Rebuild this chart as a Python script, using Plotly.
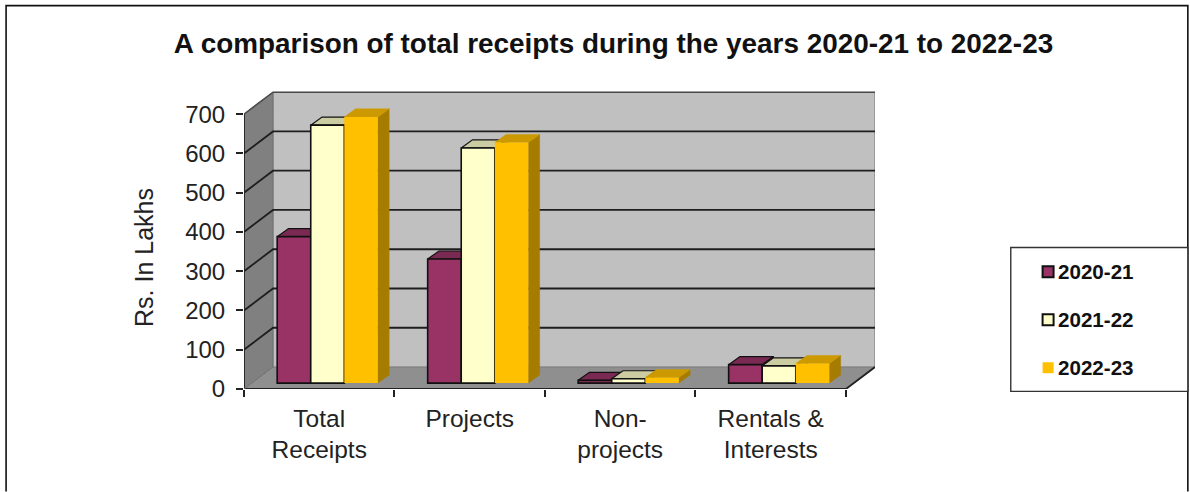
import plotly.graph_objects as go

categories = ["Total<br>Receipts", "Projects", "Non-<br>projects", "Rentals &<br>Interests"]
series_names = ["2020-21", "2021-22", "2022-23"]
values_2020_21 = [373, 316, 7, 47]
values_2021_22 = [657, 599, 11, 44]
values_2022_23 = [678, 613, 14, 50]
y_ticks = [0, 100, 200, 300, 400, 500, 600, 700]

series_values = [values_2020_21, values_2021_22, values_2022_23]
front_colors = ["#993366", "#FFFFCC", "#FFC000"]
top_colors = ["#7A2952", "#CCCCA3", "#CC9A00"]
side_colors = ["#5C1F3D", "#99997A", "#A67C00"]
edge_colors = ["#111111", "#111111", None]

FONT = "Liberation Sans"

# Oblique projection used for the pseudo-3D box, in axis units
WALL_DX, WALL_DY = 0.193, 56      # depth of the whole box
PLANE_DX, PLANE_DY = 0.055, 15    # plane holding the bars' front faces
BAR_DX, BAR_DY = 0.075, 20.5      # depth of a single bar
BAR_W = 0.223

X0, X1 = -0.5, 3.5
Y_MAX = 700
positions = list(range(len(categories)))


def poly(xs, ys, color, z, edge=None, edge_width=1.2):
    return go.Scatter(
        x=xs, y=ys, mode="lines", fill="toself", fillcolor=color,
        line=dict(color=edge or color, width=edge_width if edge else 0.5),
        hoverinfo="skip", showlegend=False, zorder=z, cliponaxis=False,
    )


def stroke(xs, ys, color, width, z):
    return go.Scatter(
        x=xs, y=ys, mode="lines", line=dict(color=color, width=width),
        hoverinfo="skip", showlegend=False, zorder=z, cliponaxis=False,
    )


fig = go.Figure()

# Walls and floor of the box
fig.add_trace(poly([X0 + WALL_DX, X1 + WALL_DX, X1 + WALL_DX, X0 + WALL_DX],
                   [WALL_DY, WALL_DY, Y_MAX + WALL_DY, Y_MAX + WALL_DY], "#C0C0C0", 0))
fig.add_trace(poly([X0, X0 + WALL_DX, X0 + WALL_DX, X0],
                   [0, WALL_DY, Y_MAX + WALL_DY, Y_MAX], "#808080", 0))
fig.add_trace(poly([X0, X1, X1 + WALL_DX, X0 + WALL_DX],
                   [0, 0, WALL_DY, WALL_DY], "#8F8F8F", 0))

# Wall edges
fig.add_trace(stroke([X1 + WALL_DX, X1 + WALL_DX], [WALL_DY, Y_MAX + WALL_DY], "#8C8C8C", 1.5, 1))
fig.add_trace(stroke([X0 + WALL_DX, X0 + WALL_DX], [WALL_DY, Y_MAX + WALL_DY], "#6E6E6E", 1, 1))
fig.add_trace(stroke([X0 + WALL_DX, X1 + WALL_DX], [WALL_DY, WALL_DY], "#7C7C7C", 1, 1))

# Gridlines run across the left wall and along the back wall
grid_x, grid_y = [], []
for v in y_ticks[1:-1]:
    grid_x += [X0, X0 + WALL_DX, X1 + WALL_DX, None]
    grid_y += [v, v + WALL_DY, v + WALL_DY, None]
fig.add_trace(stroke(grid_x, grid_y, "#1E1E1E", 1.8, 1))
fig.add_trace(stroke([X0, X0 + WALL_DX, X1 + WALL_DX],
                     [Y_MAX, Y_MAX + WALL_DY, Y_MAX + WALL_DY], "#4A4A4A", 1.6, 1))

# Front edges of the box
fig.add_trace(stroke([X0, X0], [0, Y_MAX], "#222222", 1.8, 1))
fig.add_trace(stroke([X0, X1, X1 + WALL_DX], [0, 0, WALL_DY], "#222222", 1.8, 1))
fig.add_trace(stroke([X0, X0 + WALL_DX], [0, WALL_DY], "#6E6E6E", 1, 1))

# Bars: each series paints its depth faces, then its front faces on top
for i, (name, vals) in enumerate(zip(series_names, series_values)):
    xc = [p + PLANE_DX + (i - 1) * BAR_W for p in positions]
    top_x, top_y, side_x, side_y = [], [], [], []
    for c, v in zip(xc, vals):
        left, right = c - BAR_W / 2, c + BAR_W / 2
        low, high = PLANE_DY, PLANE_DY + v
        top_x += [left, right, right + BAR_DX, left + BAR_DX, left, None]
        top_y += [high, high, high + BAR_DY, high + BAR_DY, high, None]
        side_x += [right, right + BAR_DX, right + BAR_DX, right, right, None]
        side_y += [low, low + BAR_DY, high + BAR_DY, high, low, None]
    z = 2 + 2 * i
    fig.add_trace(poly(side_x, side_y, side_colors[i], z, edge_colors[i]))
    fig.add_trace(poly(top_x, top_y, top_colors[i], z, edge_colors[i]))
    fig.add_trace(go.Bar(
        x=xc, y=vals, base=PLANE_DY, width=BAR_W, name=name,
        marker=dict(color=front_colors[i],
                    line=dict(color=edge_colors[i] or front_colors[i],
                              width=1.6 if edge_colors[i] else 0)),
        showlegend=False, zorder=z + 1,
    ))

# Chart frame, open at the bottom where the page ends
paper = dict(xref="paper", yref="paper")
W, H = 1190, 492


def px(x):
    return (x - 244.3) / (875 - 244.3)


def py(y):
    return (389.3 - y) / (389.3 - 91)


shapes = [
    dict(type="path", xsizemode="scaled", line=dict(color="#111111", width=1.6), **paper,
         path=f"M {px(6.5)} {py(492)} L {px(6.5)} {py(5.5)} L {px(1187.7)} {py(5.5)} L {px(1187.7)} {py(492)}"),
    dict(type="rect", x0=px(1010.7), x1=px(1187.7), y0=py(391.7), y1=py(247.7),
         line=dict(color="#333333", width=1.4), fillcolor="white", **paper),
]

# Legend panel with one swatch and label per series
annotations = []
for i, (name, yc) in enumerate(zip(series_names, [272, 320, 368])):
    has_edge = edge_colors[i] is not None
    shapes.append(dict(
        type="rect", x0=px(1042.5), x1=px(1053.5), y0=py(yc + 5.5), y1=py(yc - 5.5),
        fillcolor=front_colors[i],
        line=dict(color=edge_colors[i] or front_colors[i], width=2 if has_edge else 0), **paper,
    ))
    annotations.append(dict(
        text=f"<b>{name}</b>", x=px(1055.5), y=py(yc), xanchor="left", yanchor="middle",
        showarrow=False, font=dict(family=FONT, size=20.6, color="#111111"), **paper,
    ))

annotations.append(dict(
    text="Rs. In Lakhs", x=px(144.5), y=py(258), textangle=-90, xanchor="center", yanchor="middle",
    showarrow=False, font=dict(family=FONT, size=25, color="#222222"), **paper,
))

fig.update_layout(
    width=W, height=H, autosize=False,
    margin=dict(l=244.3, r=W - 875, t=91, b=H - 389.3, pad=0),
    paper_bgcolor="white", plot_bgcolor="rgba(0,0,0,0)",
    barmode="overlay", showlegend=False,
    title=dict(
        text="<b>A comparison of total receipts during the years 2020-21 to 2022-23</b>",
        x=613.5 / W, y=1 - 43.5 / H, xanchor="center", yanchor="middle",
        font=dict(family=FONT, size=27.9, color="#111111"),
    ),
    xaxis=dict(
        range=[X0, X1 + WALL_DX], tickmode="array", tickvals=positions, ticktext=categories,
        ticks="", showgrid=False, showline=False, zeroline=False, ticklabelstandoff=12,
        minor=dict(tickmode="array", tickvals=[X0, 0.5, 1.5, 2.5, X1], ticks="outside",
                   ticklen=7, tickwidth=1.6, tickcolor="#222222", showgrid=False),
        tickfont=dict(family=FONT, size=24.5, color="#222222"),
    ),
    yaxis=dict(
        range=[0, 759], tickmode="array", tickvals=y_ticks, ticks="outside", ticklen=7,
        tickwidth=1.6, tickcolor="#222222", showgrid=False, showline=False, zeroline=False,
        ticklabelstandoff=6, tickfont=dict(family=FONT, size=24, color="#222222"),
    ),
    shapes=shapes, annotations=annotations,
)

fig.write_html("out.html")
